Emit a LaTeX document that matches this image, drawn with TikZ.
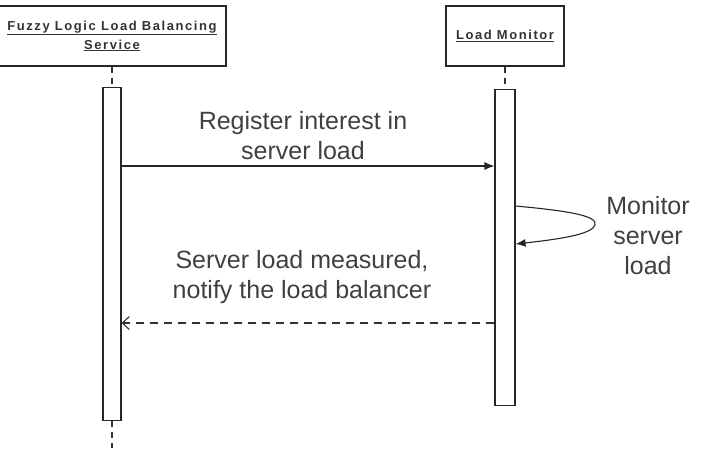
\documentclass[tikz,border=0pt]{standalone}
\usepackage{fontspec}
\setmainfont{Liberation Sans}
\newfontfamily\headfont[LetterSpace=12]{Liberation Sans}
\usetikzlibrary{arrows.meta,positioning}
\tikzset{
  actor/.style={
    rectangle,
    draw=black!85,
    line width=1.3pt,
    minimum height=60pt,
    align=center,
    font=\headfont\bfseries\fontsize{13}{19}\selectfont,
    text=black!80,
    inner sep=0pt
  },
  actbar/.style={
    rectangle,
    draw=black!85,
    line width=1.1pt,
    fill=white,
    inner sep=0pt
  },
  lifeline/.style={dash pattern=on 6pt off 5pt, line width=1.3pt, black!80},
  msg/.style={-{Latex[length=10pt,width=8pt]}, line width=1.1pt, black!85},
  reply/.style={-{Straight Barb[length=7pt,width=13pt]}, line width=1.1pt, black!80, dash pattern=on 8pt off 6pt},
  msgtext/.style={align=center, font=\fontsize{25}{30}\selectfont, text=black!75}
}

\begin{document}
\begin{tikzpicture}[x=1pt,y=-1pt]
\useasboundingbox (0,0) rectangle (704,448);
% participants
\node[actor, minimum width=228pt] (fls) at (112,36) {\underline{Fuzzy Logic Load Balancing}\\\underline{Service}};
\node[actor, minimum width=118pt] (lm) at (505,36) {\underline{Load Monitor}};
\node[actbar, minimum width=18pt, minimum height=333pt, below=20pt of fls] (flsbar) {};
\node[actbar, minimum width=20pt, minimum height=316pt, below=22pt of lm] (lmbar) {};
\coordinate (flsend) at (112,448);
\draw[lifeline] (fls.south) -- (flsbar.north);
\draw[lifeline] (flsbar.south) -- (flsend);
\draw[lifeline] (lm.south) -- (lmbar.north);
% messages
\coordinate (reg) at (0,166);
\coordinate (monin) at (0,206);
\coordinate (montip) at (595,225);
\coordinate (monout) at (0,244);
\coordinate (notif) at (0,323);
\draw[msg] (flsbar.east |- reg) -- (lmbar.west |- reg);
\node[msgtext] (regtext) at (303,136) {Register interest in\\server load};
\draw[msg] (lmbar.east |- monin) .. controls (570,211) and (598,216) .. (montip)
  .. controls (592,233) and (570,238) .. (lmbar.east |- monout);
\node[msgtext] (montext) at (648,236) {Monitor\\server\\load};
\draw[reply] (lmbar.west |- notif) -- (flsbar.east |- notif);
\node[msgtext] (notiftext) at (302,277) {Server load measured,\\notify the load balancer};
\end{tikzpicture}
\end{document}
